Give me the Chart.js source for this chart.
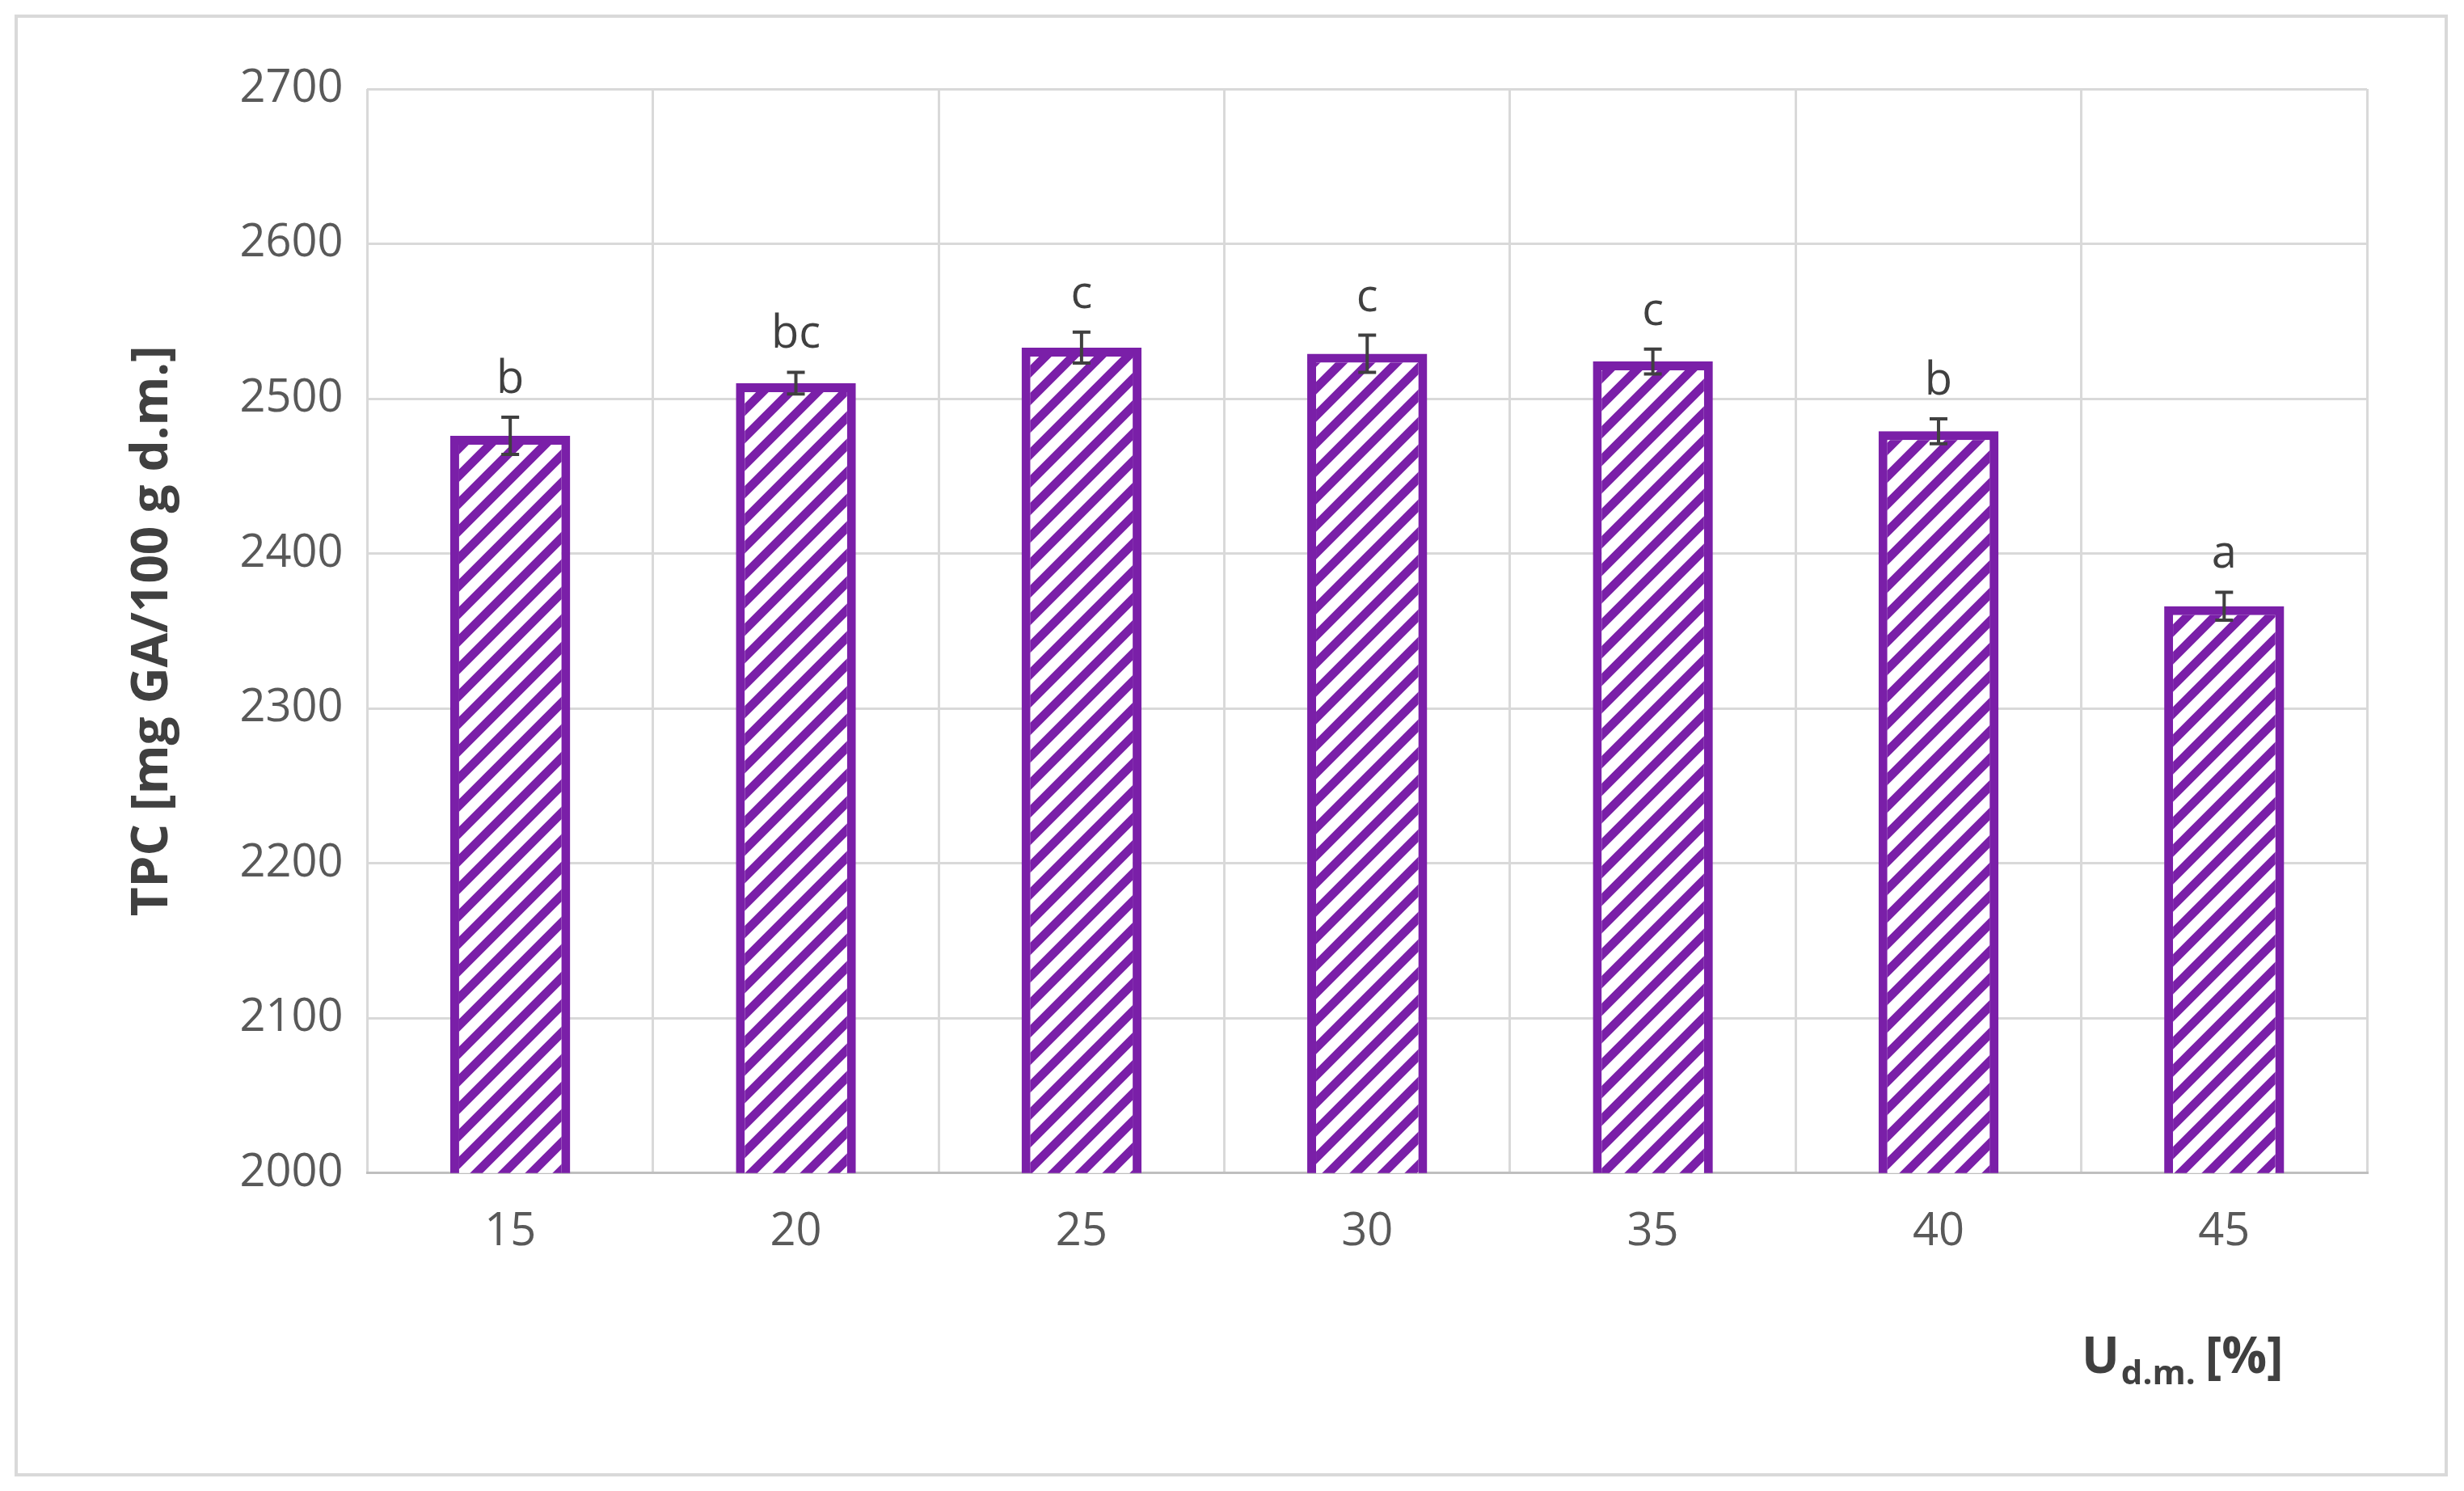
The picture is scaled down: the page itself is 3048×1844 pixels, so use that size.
<!DOCTYPE html>
<html>
<head>
<meta charset="utf-8">
<script src="https://cdn.jsdelivr.net/npm/chart.js@4.4.0/dist/chart.umd.min.js"></script>
<style>
  body { margin: 0; background: #fff; }
  #wrap { position: absolute; left: 18px; top: 18px; width: 3010px; height: 1808px; border: 4px solid #d9d9d9; box-sizing: border-box; }
  canvas { position: absolute; left: 0; top: 0; }
</style>
</head>
<body>
<div id="wrap"></div>
<canvas id="chart" width="3048" height="1844"></canvas>
<script>
const categories = ['15', '20', '25', '30', '35', '40', '45'];
const tpcValues = [2476, 2510, 2533, 2529, 2524, 2479, 2366];
const tpcErrors = [12, 7, 10, 12, 8, 8, 9];
const letters = ['b', 'bc', 'c', 'c', 'c', 'b', 'a'];
const yTicks = [2000, 2100, 2200, 2300, 2400, 2500, 2600, 2700];

const purple = '#7a1fa8';

function hatch() {
    const c = document.createElement('canvas');
    c.width = 34; c.height = 34;
    const g = c.getContext('2d');
    g.fillStyle = '#fff';
    g.fillRect(0, 0, 34, 34);
    g.strokeStyle = purple;
    g.lineWidth = 11;
    g.beginPath();
    for (let k = -1; k <= 1; k++) {
        g.moveTo(k * 34 - 5, 39);
        g.lineTo(k * 34 + 39, -5);
    }
    g.stroke();
    return g.createPattern(c, 'repeat');
}

const extras = {
    id: 'extras',
    afterDatasetsDraw(chart) {
        const { ctx, scales: { x, y } } = chart;
        ctx.save();
        tpcValues.forEach((v, i) => {
            const px = x.getPixelForValue(i);
            const top = y.getPixelForValue(v + tpcErrors[i]);
            const bot = y.getPixelForValue(v - tpcErrors[i]);
            ctx.strokeStyle = '#404040';
            ctx.lineWidth = 4;
            ctx.beginPath();
            ctx.moveTo(px, top); ctx.lineTo(px, bot);
            ctx.moveTo(px - 11, top); ctx.lineTo(px + 11, top);
            ctx.moveTo(px - 11, bot); ctx.lineTo(px + 11, bot);
            ctx.stroke();
            ctx.fillStyle = '#404040';
            ctx.font = '56px "Open Sans", "Liberation Sans", sans-serif';
            ctx.textAlign = 'center';
            ctx.textBaseline = 'bottom';
            ctx.fillText(letters[i], px, top - 18);
        });
        // x axis title with subscript
        ctx.fillStyle = '#404040';
        ctx.textBaseline = 'alphabetic';
        ctx.textAlign = 'left';
        let sx = 2575, sy = 1698;
        ctx.font = 'bold 62px "Open Sans", "Liberation Sans", sans-serif';
        ctx.fillText('U', sx, sy);
        sx += ctx.measureText('U').width + 2;
        ctx.font = 'bold 42px "Open Sans", "Liberation Sans", sans-serif';
        ctx.fillText('d.m.', sx, sy + 14);
        sx += ctx.measureText('d.m.').width + 12;
        ctx.font = 'bold 62px "Open Sans", "Liberation Sans", sans-serif';
        ctx.fillText('[%]', sx, sy);
        ctx.restore();
    }
};

new Chart(document.getElementById('chart'), {
    type: 'bar',
    data: {
        labels: categories,
        datasets: [{
            data: tpcValues,
            backgroundColor: hatch(),
            borderColor: purple,
            borderWidth: 11,
            borderSkipped: 'bottom',
            barPercentage: 0.42,
            categoryPercentage: 1
        }]
    },
    options: {
        responsive: false,
        devicePixelRatio: 1,
        animation: false,
        layout: { padding: { left: 148, right: 120, top: 110, bottom: 246 } },
        plugins: { legend: { display: false }, tooltip: { enabled: false } },
        scales: {
            x: {
                grid: { color: '#d9d9d9', lineWidth: 3, offset: true, drawTicks: false },
                border: { color: '#bfbfbf', width: 3 },
                ticks: { color: '#595959', padding: 40, font: { size: 56, family: '"Open Sans", "Liberation Sans", sans-serif' } }
            },
            y: {
                min: 2000, max: 2700,
                afterBuildTicks(axis) { axis.ticks = yTicks.map(v => ({ value: v })); },
                grid: { color: '#d9d9d9', lineWidth: 3, drawTicks: false },
                border: { display: false },
                ticks: { color: '#595959', padding: 30, callback: v => String(v), font: { size: 56, family: '"Open Sans", "Liberation Sans", sans-serif' } },
                title: {
                    display: true, text: 'TPC [mg GA/100 g d.m.]', color: '#404040', padding: { bottom: 40 },
                    font: { size: 62, weight: 'bold', family: '"Open Sans", "Liberation Sans", sans-serif' }
                }
            }
        }
    },
    plugins: [extras]
});
</script>
</body>
</html>
